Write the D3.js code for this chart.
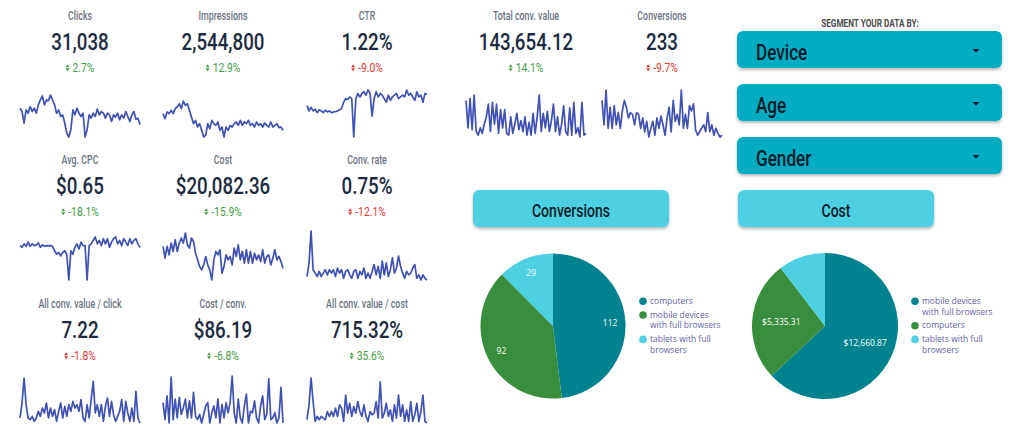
<!DOCTYPE html>
<html><head><meta charset="utf-8">
<script src="https://cdn.jsdelivr.net/npm/d3@7"></script>
<style>
html,body{margin:0;padding:0;background:#fff;}
svg{display:block;}
</style></head><body>
<svg id="chart" width="1024" height="448"></svg>
<script>
// ---------- DATA ----------
const kpiTitles = ["Clicks","Impressions","CTR","Total conv. value","Conversions",
  "Avg. CPC","Cost","Conv. rate","All conv. value / click","Cost / conv.","All conv. value / cost"];
const kpiValues = ["31,038","2,544,800","1.22%","143,654.12","233",
  "$0.65","$20,082.36","0.75%","7.22","$86.19","715.32%"];
const kpiChanges = ["2.7%","12.9%","-9.0%","14.1%","-9.7%",
  "-18.1%","-15.9%","-12.1%","-1.8%","-6.8%","35.6%"];
const kpiGood = [true,true,false,true,false, true,true,false, false,true,true];

const clicksSeries = [385,375,340,380,370,390,375,385,370,395,410,422,395,410,408,425,410,395,370,380,360,365,340,310,298,320,380,365,385,370,360,370,298,320,365,355,370,360,382,365,375,370,355,370,365,345,365,358,370,350,365,355,375,360,345,365,375,352,355,335];
const impressionsSeries = [32500,28750,33750,32500,35000,32500,36250,37500,40000,36250,42000,38750,40000,35000,30000,25000,27500,22500,25000,20000,15000,16250,25000,21250,27500,25000,23750,26250,20000,22500,15000,22500,20000,23750,22500,25000,26250,23750,27500,23750,26250,25000,27500,23750,25000,22500,26250,23750,25000,22500,25500,23750,22500,26250,22500,23750,25000,22000,22500,20000];
const ctrSeries = [1.20,1.05,1.15,1.05,1.10,1.00,1.08,1.05,1.00,1.07,1.02,1.05,1.00,1.02,1.03,1.05,1.08,1.12,1.30,1.40,1.38,1.45,1.40,0.30,1.40,1.55,1.45,1.55,1.60,1.50,1.65,1.55,0.90,1.40,1.60,1.45,1.55,1.50,1.40,1.30,1.50,1.35,1.45,1.50,1.55,1.40,1.45,1.50,1.45,1.65,1.50,1.55,1.45,1.35,1.60,1.45,1.50,1.30,1.55,1.52];
const convValueSeries = [2875,1000,3000,875,3250,750,500,1000,625,1250,1750,2625,750,2750,1250,2625,625,2250,1000,2250,625,500,1750,625,1250,2000,875,1500,750,1750,500,1375,500,2000,625,1750,3250,750,2000,1000,2125,750,1500,2625,750,1750,500,1250,2500,750,500,2375,500,2750,625,1000,375,2750,500,625];
const conversionsSeries = [5.75,2.25,7.25,1.75,4.75,1.75,5,2.25,4,1.75,4.25,5.75,4.75,3.25,4,3.75,2.25,4,3.75,1.75,3.25,1.25,2.75,0.5,1.75,2.75,0.75,3.25,1.75,3.5,2.25,0.75,3.25,4.75,1.25,5.75,2.75,3.75,2.25,7.25,1.75,3.75,1.75,5,4.25,5.25,1.5,0.75,1.25,1.75,2.25,1.25,4,1.25,2.25,0.75,1.75,1,0.5,0.75];
const cpcSeries = [0.70,0.675,0.725,0.69,0.75,0.69,0.725,0.70,0.71,0.74,0.675,0.71,0.69,0.70,0.695,0.70,0.69,0.625,0.575,0.60,0.55,0.60,0.625,0.575,0.20,0.625,0.575,0.675,0.725,0.65,0.75,0.70,0.70,0.20,0.70,0.725,0.775,0.825,0.725,0.775,0.70,0.80,0.725,0.80,0.675,0.75,0.80,0.825,0.725,0.775,0.70,0.80,0.75,0.70,0.80,0.725,0.775,0.80,0.725,0.675];
const costSeries = [240,205,240,215,250,225,260,225,250,265,250,280,245,235,265,255,220,200,180,170,185,210,185,170,140,200,225,215,230,160,180,215,200,210,185,235,210,245,200,225,190,230,190,225,190,220,200,215,195,230,190,210,215,185,205,230,200,210,195,175];
const convRateSeries = [0.70,1.50,3.36,1.10,0.90,0.70,1.00,0.70,0.90,1.10,0.80,1.10,0.90,1.10,0.70,1.20,0.90,1.10,0.60,1.00,1.10,0.80,0.60,1.00,1.10,0.60,1.00,0.80,1.20,0.60,0.90,0.60,1.00,1.40,0.80,1.30,0.60,1.60,0.80,1.50,0.70,1.10,1.80,0.90,1.20,1.90,1.30,0.90,0.60,1.00,0.80,0.90,1.20,1.40,0.60,0.80,0.50,0.80,0.60,0.50];
const valuePerClickSeries = [4.0,8.5,16.0,8.0,4.0,3.5,4.5,3.0,4.0,6.0,4.5,7.0,5.5,8.5,4.0,7.0,4.5,6.5,3.0,6.0,8.5,4.0,7.5,4.5,8.0,6.0,9.0,7.0,8.0,6.0,9.5,4.0,3.0,8.0,4.0,9.5,15.0,5.5,8.0,4.5,8.0,3.0,7.5,10.0,4.5,9.0,5.0,3.0,4.5,6.0,9.5,3.0,9.0,5.5,3.0,7.0,3.0,12.0,4.0,2.5];
const costPerConvSeries = [90,40,110,30,165,40,100,45,105,55,75,100,45,95,45,120,50,40,55,30,55,80,90,30,60,80,45,100,30,85,45,90,60,90,168,60,30,100,45,30,80,115,30,65,60,95,45,30,80,110,40,55,160,40,45,60,30,45,135,30];
const valuePerCostSeries = [175,400,810,450,150,225,175,225,200,175,300,225,300,225,350,225,400,350,150,550,275,425,225,375,275,450,300,225,400,225,150,300,250,275,450,200,750,200,275,425,225,325,150,400,200,550,225,400,150,325,150,450,150,250,425,150,300,550,150,125];

const sparkSeries = [clicksSeries, impressionsSeries, ctrSeries, convValueSeries, conversionsSeries,
  cpcSeries, costSeries, convRateSeries, valuePerClickSeries, costPerConvSeries, valuePerCostSeries];

const segmentTitle = "SEGMENT YOUR DATA BY:";
const segmentOptions = ["Device","Age","Gender"];

const pieTitles = ["Conversions","Cost"];
const conversionsLabels = ["computers","mobile devices with full browsers","tablets with full browsers"];
const conversionsValues = [112,92,29];
const costLabels = ["mobile devices with full browsers","computers","tablets with full browsers"];
const costValues = [12660.87,5335.31,2086.18];

// ---------- STYLE / LAYOUT ----------
const cond = 'Roboto,"Liberation Sans",sans-serif';
const sans = '"Open Sans","Noto Sans",sans-serif';
const colCenters = [80,223,367,526,662];
const kpiCol = [0,1,2,3,4,0,1,2,0,1,2];
const kpiRow = [0,0,0,0,0,1,1,1,2,2,2];
const rowOff = [0,144,288];
const sparkBottom = [137,280,423];
const sparkTop = [95,101,90,95,90,237,233,231,378,376,378];
const sparkWidth = 120;
const green = "#43a047", red = "#e53935";
const sliceColors = ["#00838f","#388e3c","#4dd0e1"];

const svg = d3.select("#chart");
const defs = svg.append("defs");
const flt = defs.append("filter").attr("id","shadow")
  .attr("x","-5%").attr("y","-20%").attr("width","110%").attr("height","160%");
flt.append("feDropShadow").attr("dx",0).attr("dy",2).attr("stdDeviation",1.6)
  .attr("flood-color","#000").attr("flood-opacity",0.28);

// condensed text helper: horizontal squeeze to mimic a condensed display face
function ctext(parent, x, y, size, sx, txt, o={}){
  return parent.append("text")
    .attr("transform",`translate(${x},${y}) scale(${sx},1)`)
    .attr("text-anchor", o.anchor || "middle")
    .attr("font-family", cond).attr("font-size", size)
    .attr("font-weight", o.weight || 400)
    .attr("fill", o.fill || "#000").text(txt);
}

// ---------- KPI scorecards ----------
kpiTitles.forEach((title,i)=>{
  const cx = colCenters[kpiCol[i]];
  const off = rowOff[kpiRow[i]];
  const g = svg.append("g");
  ctext(g, cx, 20+off, 12, 0.74, title, {fill:"#6b737f", weight:500});
  ctext(g, cx, 49.5+off, 24, 0.78, kpiValues[i], {fill:"#1b2a41", weight:500});
  const col = kpiGood[i] ? green : red;
  const sx = 0.86;
  const t = g.append("text").attr("font-family",cond).attr("font-size",12)
    .attr("fill",col).text(kpiChanges[i]);
  const tw = t.node().getComputedTextLength()*sx;
  const iconW = 4, gap = 3;
  const x0 = cx - (iconW + gap + tw)/2;
  const b = 71.5 + off;
  t.attr("transform",`translate(${x0+iconW+gap},${b}) scale(${sx},1)`);
  g.append("path").attr("fill",col)
    .attr("d",`M${x0},${b-4.3}L${x0+2},${b-7.3}L${x0+4},${b-4.3}Z M${x0},${b-3.3}L${x0+4},${b-3.3}L${x0+2},${b-0.3}Z`);

  // sparkline
  const data = sparkSeries[i];
  const xs = d3.scaleLinear().domain([0,data.length-1]).range([cx-sparkWidth/2, cx+sparkWidth/2]);
  const ys = d3.scaleLinear().domain(d3.extent(data)).range([sparkBottom[kpiRow[i]], sparkTop[i]]);
  g.append("path").datum(data)
    .attr("fill","none").attr("stroke","#3f51b5").attr("stroke-width",1.7)
    .attr("stroke-linejoin","round")
    .attr("d", d3.line().x((d,j)=>xs(j)).y(d=>ys(d)));
});

// ---------- Segment dropdowns ----------
ctext(svg, 870, 26.5, 10, 0.82, segmentTitle, {weight:700, fill:"#4a4a4a"});
segmentOptions.forEach((opt,i)=>{
  const top = 31 + i*53;
  svg.append("rect").attr("x",737).attr("y",top).attr("width",265).attr("height",37)
    .attr("rx",6).attr("fill","#00acc1").attr("filter","url(#shadow)");
  ctext(svg, 756, top+28.5, 22, 0.78, opt, {anchor:"start", fill:"#0b1a2a", weight:500});
  svg.append("path").attr("fill","#0b1a2a")
    .attr("d",`M${972.5},${top+18}L${979.5},${top+18}L${976},${top+21.5}Z`);
});

// ---------- Pie charts ----------
const pies = [
  {title:pieTitles[0], labels:conversionsLabels, values:conversionsValues, fmt:d3.format(","),
   box:[473,190], cx:553, cy:326, r:72.5, labelR:0.79, legendX:643, legendTextX:650},
  {title:pieTitles[1], labels:costLabels, values:costValues, fmt:d3.format("$,.2f"),
   box:[738,190], cx:825, cy:326, r:73, labelR:0.6, legendX:915, legendTextX:922}
];

function wrap(str, maxChars){
  const words = str.split(" "); const lines=[]; let cur="";
  words.forEach(w=>{
    const cand = cur ? cur+" "+w : w;
    if(cand.length>maxChars && cur){ lines.push(cur); cur=w; } else cur=cand;
  });
  if(cur) lines.push(cur);
  return lines;
}

pies.forEach(p=>{
  svg.append("rect").attr("x",p.box[0]).attr("y",p.box[1]).attr("width",196).attr("height",37)
    .attr("rx",6).attr("fill","#4dd0e1").attr("filter","url(#shadow)");
  ctext(svg, p.box[0]+98, p.box[1]+27, 19, 0.74, p.title, {weight:500, fill:"#0b1a2a"});

  const arcs = d3.pie().sort(null).value(d=>d)(p.values);
  const total = d3.sum(p.values);
  const arc = d3.arc().innerRadius(0).outerRadius(p.r);
  const g = svg.append("g").attr("transform",`translate(${p.cx},${p.cy})`);
  g.selectAll("path.slice").data(arcs).join("path").attr("class","slice")
    .attr("d",arc).attr("fill",(d,i)=>sliceColors[i]);
  const la = d3.arc().innerRadius(p.r*p.labelR).outerRadius(p.r*p.labelR);
  g.selectAll("text.lbl").data(arcs.filter(d=>d.value/total>0.11)).join("text").attr("class","lbl")
    .attr("transform",d=>{const c=la.centroid(d); return `translate(${c[0]},${c[1]})`;})
    .attr("text-anchor","middle").attr("dy","0.35em")
    .attr("font-family",sans).attr("font-size",8.5).attr("fill","#ffffff")
    .text(d=>p.fmt(d.value));

  // legend
  let y = 304;
  p.labels.forEach((lab,i)=>{
    const lines = wrap(lab,18);
    svg.append("circle").attr("cx",p.legendX).attr("cy",y-2.7).attr("r",3.8).attr("fill",sliceColors[i]);
    lines.forEach((ln,k)=>{
      svg.append("text").attr("x",p.legendTextX).attr("y",y+k*10.7)
        .attr("font-family",sans).attr("font-size",8.5).attr("fill","#5f63a8").text(ln);
    });
    y += (lines.length-1)*10.7 + 13.7;
  });
});
</script>
</body></html>
